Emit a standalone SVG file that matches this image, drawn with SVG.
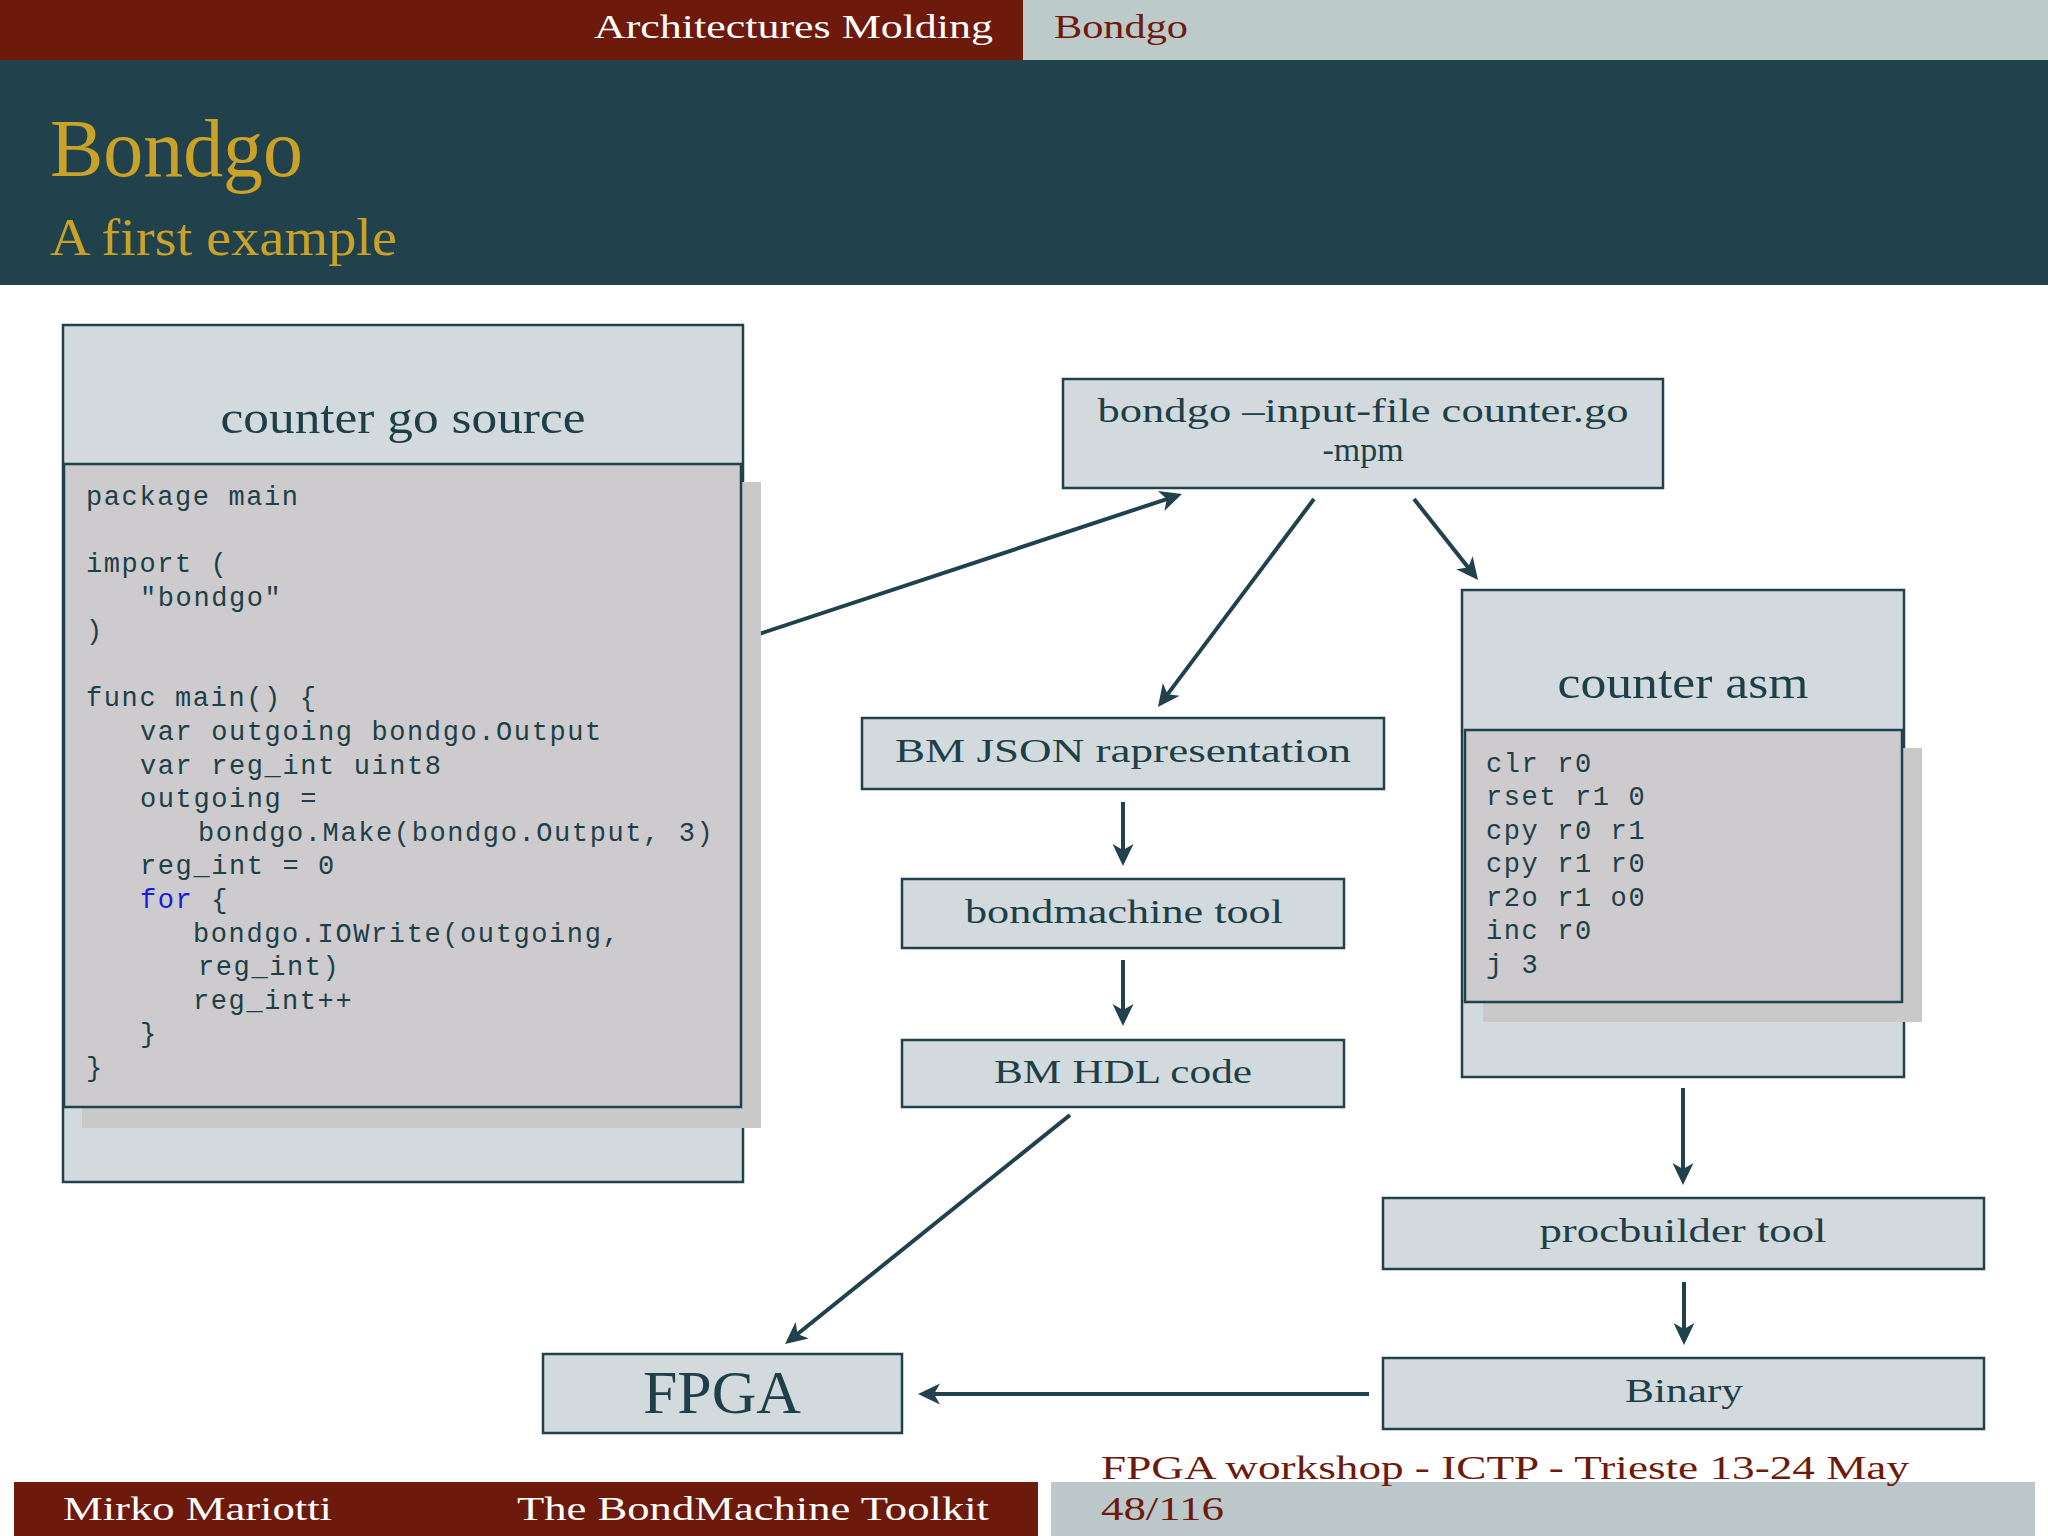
<svg xmlns="http://www.w3.org/2000/svg" width="2048" height="1536" viewBox="0 0 2048 1536">
<style>
.serif{font-family:"Liberation Serif","DejaVu Serif",serif;}
.mono{font-family:"Liberation Mono","DejaVu Sans Mono",monospace;font-size:27px;letter-spacing:1.6px;fill:#1e3f48;}
.box{fill:#d3dade;stroke:#21414d;stroke-width:2.5;}
.inner{fill:#cdcbce;stroke:#21414d;stroke-width:2.5;}
.shadow{fill:#c9c9c9;}
.lbl{fill:#1e3f48;font-size:34px;text-anchor:middle;}
.ttl{fill:#1e3f48;font-size:46px;text-anchor:middle;}
.conn{stroke:#21414d;stroke-width:4;fill:none;marker-end:url(#arr);}
</style>
<defs>
<marker id="arr" markerUnits="userSpaceOnUse" markerWidth="30" markerHeight="30" refX="10" refY="12" orient="auto" overflow="visible">
<path d="M22,12 L0,1.5 L6,12 L0,22.5 Z" fill="#21414d"/>
</marker>
</defs>
<rect width="2048" height="1536" fill="#ffffff"/>
<!-- header -->
<g id="header">
<rect x="0" y="0" width="1023" height="60" fill="#6d1a0c"/>
<rect x="1023" y="0" width="1025" height="60" fill="#bdcaca"/>
<text class="serif" x="993" y="38" font-size="33" fill="#ffffff" text-anchor="end" textLength="399" lengthAdjust="spacingAndGlyphs">Architectures Molding</text>
<text class="serif" x="1054" y="38" font-size="33" fill="#6d1a0c" textLength="134" lengthAdjust="spacingAndGlyphs">Bondgo</text>
<rect x="0" y="60" width="2048" height="225" fill="#21414d"/>
<text class="serif" x="50" y="176" font-size="82" fill="#c9a227" textLength="253" lengthAdjust="spacingAndGlyphs">Bondgo</text>
<text class="serif" x="50" y="255" font-size="52" fill="#c9a227" textLength="347" lengthAdjust="spacingAndGlyphs">A first example</text>
</g>
<!-- connectors -->
<g id="connectors">
<line class="conn" x1="756" y1="635" x2="1170.6" y2="497.8"/>
<line class="conn" x1="1314" y1="499" x2="1165.2" y2="697.4"/>
<line class="conn" x1="1414" y1="499" x2="1470.6" y2="570.6"/>
<line class="conn" x1="1123" y1="802" x2="1123" y2="854"/>
<line class="conn" x1="1123" y1="960" x2="1123" y2="1014"/>
<line class="conn" x1="1070" y1="1115" x2="794.4" y2="1336.5"/>
<line class="conn" x1="1683" y1="1088" x2="1683" y2="1173"/>
<line class="conn" x1="1684" y1="1282" x2="1684" y2="1333"/>
<line class="conn" x1="1369" y1="1394" x2="930" y2="1394"/>
</g>
<!-- counter go source -->
<g id="node-source">
<rect class="box" x="63" y="325" width="680" height="857"/>
<text class="serif ttl" x="403" y="433" textLength="365" lengthAdjust="spacingAndGlyphs">counter go source</text>
<rect class="shadow" x="82" y="482" width="679" height="646"/>
<rect class="inner" x="64" y="464" width="677" height="643"/>
<text class="mono" x="86" y="505">package main</text>
<text class="mono" x="86" y="572">import (</text>
<text class="mono" x="140" y="606">"bondgo"</text>
<text class="mono" x="86" y="639">)</text>
<text class="mono" x="86" y="706">func main() {</text>
<text class="mono" x="140" y="740">var outgoing bondgo.Output</text>
<text class="mono" x="140" y="774">var reg_int uint8</text>
<text class="mono" x="140" y="807">outgoing =</text>
<text class="mono" x="198" y="841">bondgo.Make(bondgo.Output, 3)</text>
<text class="mono" x="140" y="874">reg_int = 0</text>
<text class="mono" x="140" y="908"><tspan fill="#1a1adb">for</tspan> {</text>
<text class="mono" x="193" y="942">bondgo.IOWrite(outgoing,</text>
<text class="mono" x="198" y="975">reg_int)</text>
<text class="mono" x="193" y="1009">reg_int++</text>
<text class="mono" x="140" y="1042">}</text>
<text class="mono" x="86" y="1076">}</text>
</g>
<!-- command -->
<g id="node-bondgo">
<rect class="box" x="1063" y="379" width="600" height="109"/>
<text class="serif lbl" x="1363" y="422" textLength="531" lengthAdjust="spacingAndGlyphs">bondgo –input-file counter.go</text>
<text class="serif lbl" x="1363" y="461">-mpm</text>
</g>
<g id="node-json">
<rect class="box" x="862" y="718" width="522" height="71"/>
<text class="serif lbl" x="1123" y="762" textLength="456" lengthAdjust="spacingAndGlyphs">BM JSON rapresentation</text>
</g>
<g id="node-bmtool">
<rect class="box" x="902" y="879" width="442" height="69"/>
<text class="serif lbl" x="1124" y="923" textLength="318" lengthAdjust="spacingAndGlyphs">bondmachine tool</text>
</g>
<g id="node-hdl">
<rect class="box" x="902" y="1040" width="442" height="67"/>
<text class="serif lbl" x="1123" y="1083" textLength="258" lengthAdjust="spacingAndGlyphs">BM HDL code</text>
</g>
<!-- counter asm -->
<g id="node-asm">
<rect class="box" x="1462" y="590" width="442" height="487"/>
<text class="serif ttl" x="1683" y="698" textLength="251" lengthAdjust="spacingAndGlyphs">counter asm</text>
<rect class="shadow" x="1483" y="748" width="439" height="274"/>
<rect class="inner" x="1465" y="730" width="437" height="272"/>
<text class="mono" x="1486" y="772">clr r0</text>
<text class="mono" x="1486" y="805">rset r1 0</text>
<text class="mono" x="1486" y="839">cpy r0 r1</text>
<text class="mono" x="1486" y="872">cpy r1 r0</text>
<text class="mono" x="1486" y="906">r2o r1 o0</text>
<text class="mono" x="1486" y="939">inc r0</text>
<text class="mono" x="1486" y="973">j 3</text>
</g>
<g id="node-procbuilder">
<rect class="box" x="1383" y="1198" width="601" height="71"/>
<text class="serif lbl" x="1683" y="1242" textLength="287" lengthAdjust="spacingAndGlyphs">procbuilder tool</text>
</g>
<g id="node-binary">
<rect class="box" x="1383" y="1358" width="601" height="71"/>
<text class="serif lbl" x="1684" y="1402" textLength="118" lengthAdjust="spacingAndGlyphs">Binary</text>
</g>
<g id="node-fpga">
<rect class="box" x="543" y="1354" width="359" height="79"/>
<text class="serif" x="722" y="1413" font-size="62" fill="#1e3f48" text-anchor="middle" textLength="158" lengthAdjust="spacingAndGlyphs">FPGA</text>
</g>
<!-- footer -->
<g id="footer">
<rect x="14" y="1482" width="1024" height="54" fill="#6d1a0c"/>
<rect x="1051" y="1482" width="984" height="54" fill="#bdc8cb"/>
<text class="serif" x="63" y="1520" font-size="33" fill="#ffffff" textLength="269" lengthAdjust="spacingAndGlyphs">Mirko Mariotti</text>
<text class="serif" x="517" y="1520" font-size="33" fill="#ffffff" textLength="472" lengthAdjust="spacingAndGlyphs">The BondMachine Toolkit</text>
<text class="serif" x="1101" y="1479" font-size="33" fill="#6d1a0c" textLength="808" lengthAdjust="spacingAndGlyphs">FPGA workshop - ICTP - Trieste 13-24 May</text>
<text class="serif" x="1101" y="1520" font-size="33" fill="#6d1a0c" textLength="123" lengthAdjust="spacingAndGlyphs">48/116</text>
</g>
</svg>
